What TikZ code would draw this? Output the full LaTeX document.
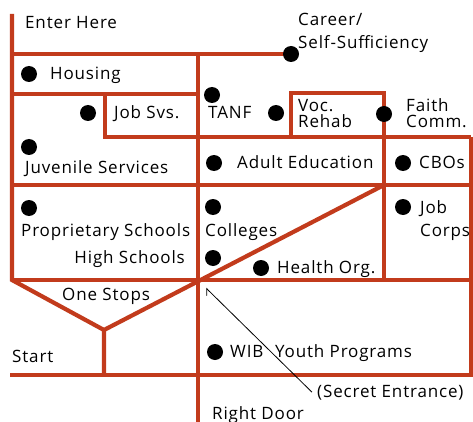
\documentclass[tikz,border=0pt]{standalone}
\usepackage{fontspec}
\setmainfont[LetterSpace=5]{Open Sans}
\usetikzlibrary{arrows.meta}
\definecolor{wallred}{HTML}{C23B1C}
\tikzset{
  wall/.style={draw=wallred, line width=4.2pt, line join=miter},
  stopdot/.style={circle, fill=black, inner sep=0pt, minimum size=16pt},
  place/.style={anchor=base west, inner sep=0pt, font=\fontsize{17}{19}\selectfont},
}
\begin{document}
\begin{tikzpicture}[x=1pt, y=-1pt]
\useasboundingbox (0,0) rectangle (473,422);
% walls of the maze
\draw[wall] (12,14) -- (12,280) -- (104,330) -- (104,375);
\draw[wall] (12,54) -- (291,54);
\draw[wall] (12,94) -- (198,94);
\draw[wall] (105,94) -- (105,137) -- (471,137);
\draw[wall] (12,185) -- (471,185);
\draw[wall] (12,280) -- (471,280);
\draw[wall] (10,375) -- (473,375);
\draw[wall] (198,54) -- (198,422);
\draw[wall] (291,137) -- (291,93) -- (384,93) -- (384,280);
\draw[wall] (471,137) -- (471,375);
\draw[wall] (104,330) -- (384,185);
% stops
\node[stopdot] (career) at (291,54) {};
\node[stopdot] (housing) at (29,74) {};
\node[stopdot] (jobsvs) at (88,113) {};
\node[stopdot] (tanf) at (212,95) {};
\node[stopdot] (tanfr) at (276,113) {};
\node[stopdot] (vocrehab) at (384,114) {};
\node[stopdot] (juvenile) at (29,147) {};
\node[stopdot] (adulted) at (214,163) {};
\node[stopdot] (cbos) at (403,163) {};
\node[stopdot] (propschools) at (29,208) {};
\node[stopdot] (colleges) at (213,207) {};
\node[stopdot] (jobcorps) at (403,207) {};
\node[stopdot] (highschools) at (213,258) {};
\node[stopdot] (health) at (261,268) {};
\node[stopdot] (wib) at (215,352) {};
% labels
\node[place] (enter) at (25,29) {Enter Here};
\node[place] (careerlbl) at (298,26) {Career/};
\node[place] (selfsuff) at (298,49) {Self-Sufficiency};
\node[place] (housinglbl) at (50,80) {Housing};
\node[place] (jobsvslbl) at (114,119) {Job Svs.};
\node[place] (tanflbl) at (208,119) {TANF};
\node[place] (voc) at (298,112) {Voc.};
\node[place] (rehab) at (298,128) {Rehab};
\node[place] (faith) at (406,112) {Faith};
\node[place] (comm) at (406,128) {Comm.};
\node[place] (juvlbl) at (25,173) {Juvenile Services};
\node[place] (adultlbl) at (237,168) {Adult Education};
\node[place] (cboslbl) at (419,168) {CBOs};
\node[place] (proplbl) at (21,236) {Proprietary Schools};
\node[place] (collegeslbl) at (205,236) {Colleges};
\node[place] (joblbl) at (420,213) {Job};
\node[place] (corps) at (420,236) {Corps};
\node[place, anchor=base east] (highlbl) at (185,263) {High Schools};
\node[place] (healthlbl) at (277,273) {Health Org.};
\node[place] (onestops) at (62,300) {One Stops};
\node[place] (start) at (12,362) {Start};
\node[place] (wiblbl) at (230,357) {WIB};
\node[place] (youth) at (275,357) {Youth Programs};
\node[place] (secret) at (317,397) {(Secret Entrance)};
\node[place] (rightdoor) at (212,419) {Right Door};
% secret entrance pointer
\coordinate (gate) at (206,288);
\draw[line width=0.8pt, {Straight Barb[left, length=5pt, width=10pt]}-] (gate) -- ([xshift=-5pt]secret.west);
\end{tikzpicture}
\end{document}
